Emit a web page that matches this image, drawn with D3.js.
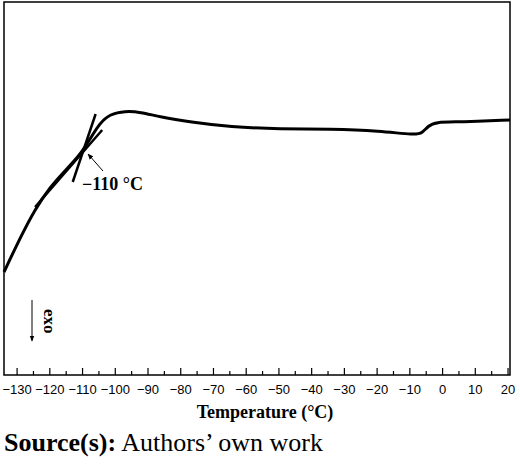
<!DOCTYPE html><html><head><meta charset="utf-8"><script src="https://cdn.jsdelivr.net/npm/d3@7"></script>
<style>body{margin:0;background:#fff}</style></head><body><svg id="c" width="520" height="465"></svg><script>
const temps=[-134,-129.1,-124.5,-119.9,-115.4,-110.8,-107.7,-104.7,-101.6,-97,-92.4,-86.3,-77.1,-64.9,-49.6,-34.3,-19.1,-8.4,-6.2,-4.4,-2.3,5.3,20.6];
const signal=[103,137,166,188,204,220,236,252,261,264,263,258,253,248,246,246,244,240,242,249,253,253,255];
const ticks=d3.range(-130,21,10);
const svg=d3.select("#c");
const x=d3.scaleLinear().domain([-134,20.6]).range([4,510]);
const y=d3.scaleLinear().domain([0,373]).range([375,2]);
svg.append("rect").attr("x",4).attr("y",2).attr("width",506).attr("height",373).attr("fill","none").attr("stroke","#000").attr("stroke-width",1.5);
const g=svg.append("g");
d3.range(-130,21,5).forEach(t=>{g.append("line").attr("x1",x(t)).attr("x2",x(t)).attr("y1",375).attr("y2",375-(t%10===0?7:4)).attr("stroke","#000").attr("stroke-width",1.2);});
ticks.forEach(t=>g.append("text").attr("x",x(t)).attr("y",394).attr("text-anchor","middle").attr("font-family","Liberation Sans,Arial").attr("font-size",13).text(t<0?"\u2212"+(-t):t));
svg.append("path").datum(temps.map((t,i)=>[t,signal[i]])).attr("d",d3.line().x(d=>x(d[0])).y(d=>y(d[1])).curve(d3.curveBasis)).attr("fill","none").attr("stroke","#000").attr("stroke-width",3);
const tang=[[[-124.5,168],[-104,245]],[[-113,193],[-106,261]]];
tang.forEach(l=>svg.append("line").attr("x1",x(l[0][0])).attr("y1",y(l[0][1])).attr("x2",x(l[1][0])).attr("y2",y(l[1][1])).attr("stroke","#000").attr("stroke-width",2.5));
svg.append("defs").append("marker").attr("id","ah").attr("viewBox","0 0 10 10").attr("refX",9).attr("refY",5).attr("markerWidth",6).attr("markerHeight",6).attr("orient","auto").append("path").attr("d","M0,1L10,5L0,9z");
svg.append("line").attr("x1",103).attr("y1",171).attr("x2",88).attr("y2",154).attr("stroke","#000").attr("stroke-width",1).attr("marker-end","url(#ah)");
svg.append("text").attr("x",82).attr("y",190).attr("font-family","Liberation Serif").attr("font-weight","bold").attr("font-size",18).text("\u2212110 \u00b0C");
svg.append("line").attr("x1",32).attr("y1",300).attr("x2",32).attr("y2",341).attr("stroke","#000").attr("stroke-width",1).attr("marker-end","url(#ah)");
svg.append("text").attr("transform","translate(44,309) rotate(90)").attr("font-family","Liberation Serif").attr("font-weight","bold").attr("font-size",17).text("exo");
svg.append("text").attr("x",265).attr("y",418).attr("text-anchor","middle").attr("font-family","Liberation Serif").attr("font-weight","bold").attr("font-size",18).text("Temperature (\u00b0C)");
const s=svg.append("text").attr("x",4).attr("y",451).attr("font-family","Liberation Serif").attr("font-size",26);
s.append("tspan").attr("font-weight","bold").text("Source(s):");s.append("tspan").text(" Authors\u2019 own work");
</script></body></html>
